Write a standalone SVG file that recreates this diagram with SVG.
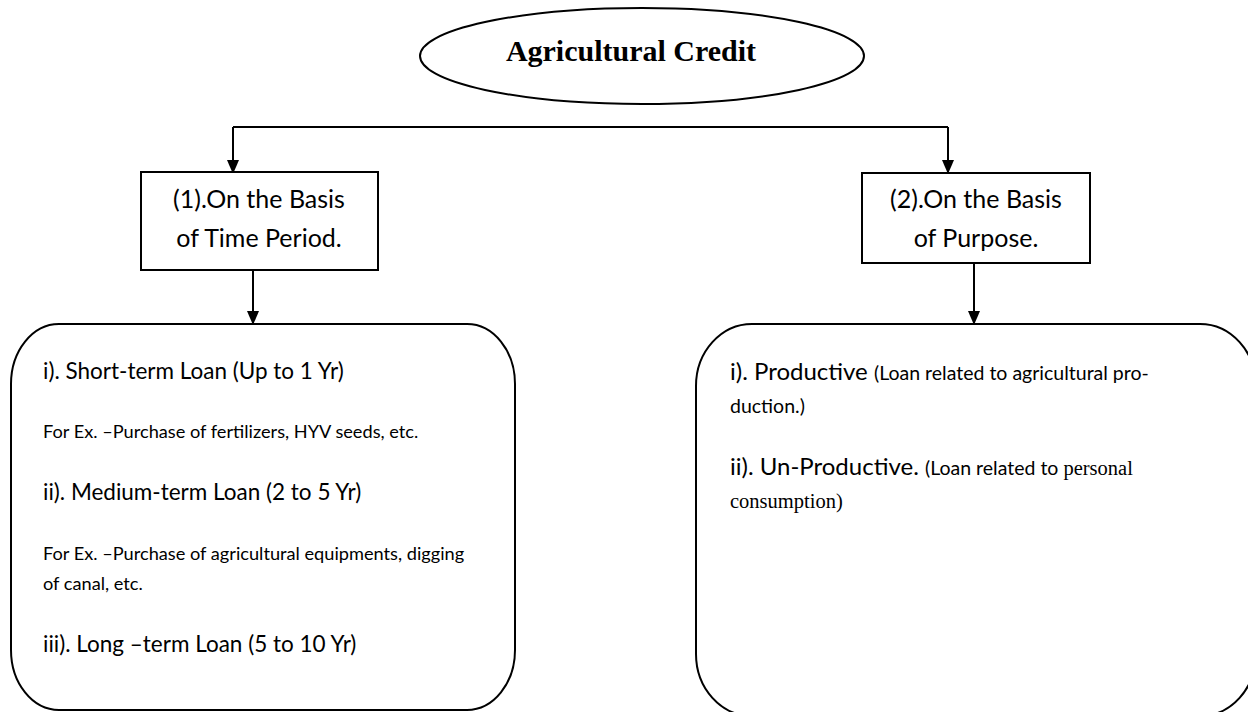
<svg xmlns="http://www.w3.org/2000/svg" width="1248" height="712" viewBox="0 0 1248 712">
<style>
.ln{stroke:#000;stroke-width:2;fill:none}
.bx{stroke:#000;stroke-width:2;fill:#fff}
.t{font-family:Lato,"Open Sans",sans-serif;fill:#000}
.big{font-size:22.5px}
.sm{font-size:18.2px}
.rbig{font-size:24px}
.rsm{font-size:19.5px}
.bxt{font-size:25px;text-anchor:middle}
.sr{font-family:"Liberation Serif",serif;font-size:20.5px}
</style>
<defs>
<marker id="ah" markerWidth="12" markerHeight="14" refX="12" refY="6" orient="auto" markerUnits="userSpaceOnUse">
<path d="M0,0 L14,6 L0,12 Z" fill="#000"/>
</marker>
</defs>
<g id="connectors">
<path class="ln" d="M233,127 H948"/>
<path class="ln" d="M233,127 V172" marker-end="url(#ah)"/>
<path class="ln" d="M948,127 V172" marker-end="url(#ah)"/>
<path class="ln" d="M253,270 V323" marker-end="url(#ah)"/>
<path class="ln" d="M974,263 V323" marker-end="url(#ah)"/>
</g>
<g id="root">
<ellipse class="bx" cx="642" cy="56" rx="222" ry="48"/>
<text x="631" y="61" text-anchor="middle" font-family="'Liberation Serif',serif" font-weight="bold" font-size="30">Agricultural Credit</text>
</g>
<g id="time">
<rect class="bx" x="141" y="172" width="237" height="98"/>
<text class="t bxt" x="259" y="208">(1).On the Basis</text>
<text class="t bxt" x="259" y="247">of Time Period.</text>
</g>
<g id="purpose">
<rect class="bx" x="862" y="173" width="228" height="90"/>
<text class="t bxt" x="976" y="208">(2).On the Basis</text>
<text class="t bxt" x="976" y="247">of Purpose.</text>
</g>
<g id="time-list">
<rect class="bx" x="11" y="324" width="504" height="386" rx="48" ry="60"/>
<text class="t big" x="43" y="379">i). Short-term Loan (Up to 1 Yr)</text>
<text class="t sm" x="43" y="438">For Ex. –Purchase of fertilizers, HYV seeds, etc.</text>
<text class="t big" x="43" y="500">ii). Medium-term Loan (2 to 5 Yr)</text>
<text class="t sm" x="43" y="560">For Ex. –Purchase of agricultural equipments, digging</text>
<text class="t sm" x="43" y="590">of canal, etc.</text>
<text class="t big" x="43" y="652">iii). Long –term Loan (5 to 10 Yr)</text>
</g>
<g id="purpose-list">
<rect class="bx" x="696" y="324" width="560" height="392" rx="56" ry="62"/>
<text class="t" x="730" y="380"><tspan class="rbig">i). Productive </tspan><tspan class="rsm">(Loan related to agricultural pro-</tspan></text>
<text class="t rsm" x="730" y="413">duction.)</text>
<text class="t" x="730" y="475"><tspan class="rbig">ii). Un-Productive. </tspan><tspan class="rsm">(Loan related to </tspan><tspan class="sr">personal</tspan></text>
<text class="t sr" x="730" y="508">consumption)</text>
</g>
</svg>
